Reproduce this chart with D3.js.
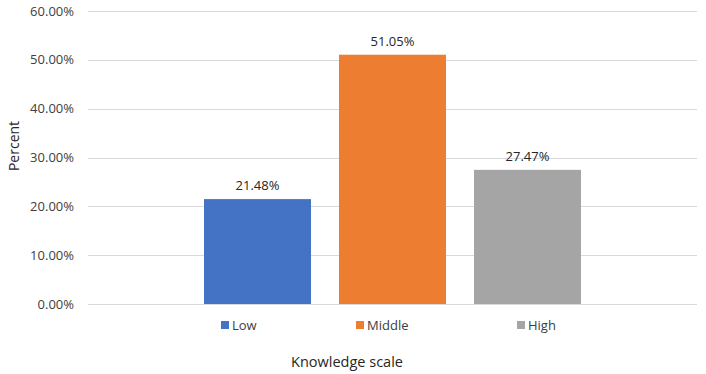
<!DOCTYPE html>
<html>
<head>
<meta charset="utf-8">
<script src="https://cdn.jsdelivr.net/npm/d3@7"></script>
<style>
    body { margin: 0; background: #fff; }
    svg text { font-family: "Open Sans", "Noto Sans", sans-serif; }
</style>
</head>
<body>
<svg id="chart" width="706" height="374"></svg>
<script>
// Data
const series = ['Low', 'Middle', 'High'];
const values = [21.48, 51.05, 27.47];
const colors = ['#4472C4', '#ED7D31', '#A5A5A5'];
const yTicks = [0, 10, 20, 30, 40, 50, 60];

// Layout
const plot = { left: 88, right: 697, top: 11, bottom: 304 };
const GAP = 28 / 135;

const svg = d3.select('#chart');

const y = d3.scaleLinear()
    .domain([0, 60])
    .range([plot.bottom, plot.top]);

const x = d3.scaleBand()
    .domain(series)
    .range([190, 595])
    .paddingInner(GAP)
    .paddingOuter(GAP / 2);

// Gridlines
svg.append('g')
    .selectAll('line')
    .data(yTicks)
    .join('line')
    .attr('x1', plot.left)
    .attr('x2', plot.right)
    .attr('y1', (d) => Math.round(y(d)) + 0.5)
    .attr('y2', (d) => Math.round(y(d)) + 0.5)
    .attr('stroke', '#D9D9D9')
    .attr('stroke-width', 1);

// Y axis labels
svg.append('g')
    .selectAll('text')
    .data(yTicks)
    .join('text')
    .attr('x', 74)
    .attr('y', (d) => y(d))
    .attr('dy', '0.35em')
    .attr('text-anchor', 'end')
    .attr('font-size', 13)
    .attr('fill', '#404040')
    .text((d) => d.toFixed(2) + '%');

// Bars
svg.append('g')
    .selectAll('rect')
    .data(values)
    .join('rect')
    .attr('x', (d, i) => x(series[i]))
    .attr('width', x.bandwidth())
    .attr('y', (d) => y(d))
    .attr('height', (d) => plot.bottom - y(d))
    .attr('fill', (d, i) => colors[i]);

// Data labels
svg.append('g')
    .selectAll('text')
    .data(values)
    .join('text')
    .attr('x', (d, i) => x(series[i]) + x.bandwidth() / 2)
    .attr('y', (d) => y(d) - 9)
    .attr('text-anchor', 'middle')
    .attr('font-size', 13)
    .attr('fill', '#262626')
    .text((d) => d.toFixed(2) + '%');

// Legend
const legendX = [221, 356, 517];
const legend = svg.append('g')
    .selectAll('g')
    .data(series)
    .join('g')
    .attr('transform', (d, i) => `translate(${legendX[i]},325)`);
legend.append('rect')
    .attr('x', 0)
    .attr('y', -4)
    .attr('width', 8)
    .attr('height', 8)
    .attr('fill', (d, i) => colors[i]);
legend.append('text')
    .attr('x', 11)
    .attr('y', 0)
    .attr('dy', '0.35em')
    .attr('font-size', 13)
    .attr('fill', '#404040')
    .text((d) => d);

// Axis titles
svg.append('text')
    .attr('x', 347)
    .attr('y', 362)
    .attr('dy', '0.35em')
    .attr('text-anchor', 'middle')
    .attr('font-size', 14.5)
    .attr('fill', '#262626')
    .text('Knowledge scale');

svg.append('text')
    .attr('transform', 'translate(14,146) rotate(-90)')
    .attr('dy', '0.35em')
    .attr('text-anchor', 'middle')
    .attr('font-size', 14)
    .attr('fill', '#262626')
    .text('Percent');
</script>
</body>
</html>
